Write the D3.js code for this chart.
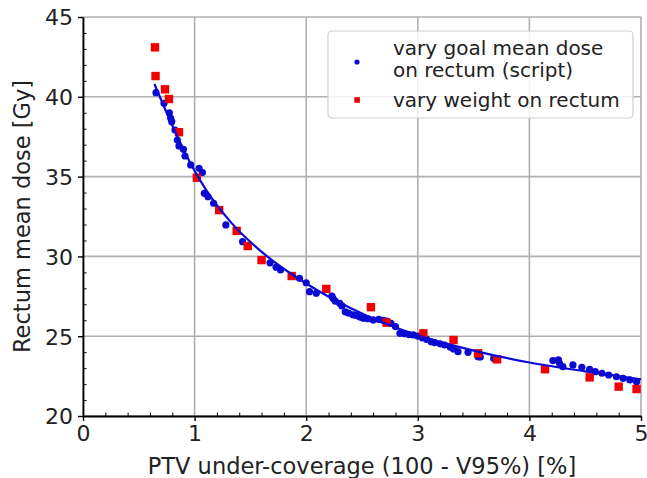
<!DOCTYPE html>
<html>
<head>
<meta charset="utf-8">
<script src="https://cdn.jsdelivr.net/npm/d3@7"></script>
<style>
  html, body { margin: 0; padding: 0; background: #fff; }
  svg { display: block; font-family: "DejaVu Sans", sans-serif; }
</style>
</head>
<body>
<svg id="chart" width="647" height="478"></svg>
<script>
// Rectum mean dose vs PTV under-coverage (trade-off curve)

// Series 1: goal mean dose varied on rectum (script)
const scriptX = [0.654, 0.726, 0.774, 0.786, 0.795, 0.824, 0.845, 0.86, 0.90, 0.914, 0.965, 1.04, 1.07,
  1.087, 1.12, 1.17, 1.28, 1.43, 1.676, 1.73, 1.77, 1.94, 2.00, 2.03, 2.09, 2.23, 2.24, 2.26, 2.30, 2.32,
  2.35, 2.38, 2.42, 2.45, 2.48, 2.51, 2.55, 2.60, 2.65, 2.69, 2.72, 2.76, 2.80, 2.84, 2.88, 2.92, 2.96,
  3.00, 3.04, 3.08, 3.12, 3.15, 3.20, 3.24, 3.29, 3.32, 3.36, 3.45, 3.54, 3.56, 3.68,
  4.21, 4.26, 4.27, 4.30, 4.39, 4.47, 4.54, 4.59, 4.65, 4.71, 4.78, 4.84, 4.90, 4.96];
const scriptY = [40.26, 39.59, 39.00, 38.65, 38.44, 37.92, 37.29, 36.92, 36.71, 36.29, 35.73, 35.52, 35.25,
  33.95, 33.74, 33.33, 31.97, 30.92, 29.60, 29.32, 29.15, 28.63, 28.35, 27.79, 27.69, 27.52, 27.37, 27.20, 27.06, 26.90,
  26.53, 26.45, 26.33, 26.30, 26.20, 26.12, 26.10, 26.02, 26.05, 26.00, 25.95, 25.80, 25.60, 25.18, 25.15, 25.10, 25.08,
  25.00, 24.90, 24.80, 24.65, 24.60, 24.52, 24.45, 24.32, 24.20, 24.03, 23.99, 23.72, 23.70, 23.60,
  23.47, 23.52, 23.30, 23.09, 23.20, 23.05, 22.93, 22.78, 22.68, 22.57, 22.46, 22.36, 22.26, 22.15];

// Series 2: weight on rectum varied
const weightX = [0.645, 0.65, 0.735, 0.77, 0.86, 1.02, 1.22, 1.377, 1.476, 1.60, 1.87, 2.18, 2.58,
  2.72, 3.05, 3.32, 3.54, 3.71, 4.14, 4.54, 4.80, 4.96];
const weightY = [43.10, 41.30, 40.47, 39.86, 37.78, 34.93, 32.90, 31.60, 30.65, 29.77, 28.77, 27.96, 26.82,
  25.85, 25.18, 24.76, 23.93, 23.55, 22.93, 22.42, 21.84, 21.69];

// Fitted trade-off curve
const fitX = [0.64, 0.75, 0.90, 1.10, 1.33, 1.65, 2.00, 2.40, 3.00, 3.50, 4.00, 4.50, 5.00];
const fitY = [40.8, 39.0, 36.7, 34.2, 32.1, 30.0, 28.3, 26.75, 25.05, 24.1, 23.35, 22.8, 22.3];

// Axes
const xTicks = [0, 1, 2, 3, 4, 5];
const yTicks = [20, 25, 30, 35, 40, 45];
const xTitle = "PTV under-coverage (100 - V95%) [%]";
const yTitle = "Rectum mean dose [Gy]";
const legendLabels = [["vary goal mean dose", "on rectum (script)"], ["vary weight on rectum"]];

const blue = "#0a0ad2";
const red = "#f00000";

const W = 647, H = 478;
const m = { left: 83, right: 6, top: 17, bottom: 62 };
const svg = d3.select("#chart");

const x = d3.scaleLinear().domain([0, 5]).range([m.left, W - m.right]);
const y = d3.scaleLinear().domain([20, 45]).range([H - m.bottom, m.top]);

// grid
const grid = svg.append("g").attr("stroke", "#b0b0b0").attr("stroke-width", 1.6);
grid.selectAll(".gx").data(xTicks).join("line")
  .attr("x1", d => x(d)).attr("x2", d => x(d))
  .attr("y1", y(20)).attr("y2", y(45));
grid.selectAll(".gy").data(yTicks).join("line")
  .attr("x1", x(0)).attr("x2", x(5))
  .attr("y1", d => y(d)).attr("y2", d => y(d));

// minor ticks (inward)
const xMinor = d3.range(0, 5.001, 0.2).filter(v => Math.abs(v - Math.round(v)) > 1e-6);
const yMinor = d3.range(20, 45.001, 1).filter(v => v % 5 !== 0);
svg.append("g").attr("transform", `translate(0,${y(20)})`)
  .call(d3.axisBottom(x).tickValues(xMinor).tickSize(-3.5).tickFormat(""))
  .call(g => g.select(".domain").remove())
  .selectAll("line").attr("stroke", "#000").attr("stroke-width", 1);
svg.append("g").attr("transform", `translate(${x(0)},0)`)
  .call(d3.axisLeft(y).tickValues(yMinor).tickSize(-3.5).tickFormat(""))
  .call(g => g.select(".domain").remove())
  .selectAll("line").attr("stroke", "#000").attr("stroke-width", 1);

// major axes
const xAxis = svg.append("g").attr("transform", `translate(0,${y(20)})`)
  .call(d3.axisBottom(x).tickValues(xTicks).tickSize(5).tickPadding(4).tickSizeOuter(0).tickFormat(d3.format("d")));
const yAxis = svg.append("g").attr("transform", `translate(${x(0)},0)`)
  .call(d3.axisLeft(y).tickValues(yTicks).tickSize(5).tickPadding(5).tickSizeOuter(0).tickFormat(d3.format("d")));
[xAxis, yAxis].forEach(a => {
  a.select(".domain").attr("stroke", "#000").attr("stroke-width", 1.8);
  a.selectAll(".tick line").attr("stroke", "#000").attr("stroke-width", 1.4);
  a.selectAll(".tick text").attr("fill", "#222").style("font-size", "22px")
    .style("font-family", "'DejaVu Sans', sans-serif");
});
yAxis.selectAll(".tick text").attr("dy", "0.36em");

// axis titles
svg.append("text").attr("x", (x(0) + x(5)) / 2).attr("y", 474)
  .attr("text-anchor", "middle").attr("fill", "#222").style("font-size", "22.5px").text(xTitle);
svg.append("text").attr("transform", `translate(30,${(y(20) + y(45)) / 2}) rotate(-90)`)
  .attr("text-anchor", "middle").attr("fill", "#222").style("font-size", "22.5px").text(yTitle);

// data
const plot = svg.append("g");
plot.selectAll(".sc").data(d3.zip(scriptX, scriptY)).join("circle")
  .attr("cx", d => x(d[0])).attr("cy", d => y(d[1])).attr("r", 3.6).attr("fill", blue);
plot.selectAll(".wt").data(d3.zip(weightX, weightY)).join("rect")
  .attr("x", d => x(d[0]) - 4.2).attr("y", d => y(d[1]) - 4.2)
  .attr("width", 8.4).attr("height", 8.4).attr("fill", red);
const line = d3.line().x(d => x(d[0])).y(d => y(d[1])).curve(d3.curveMonotoneX);
plot.append("path").datum(d3.zip(fitX, fitY)).attr("d", line)
  .attr("fill", "none").attr("stroke", blue).attr("stroke-width", 2.2);

// legend
const lg = svg.append("g");
lg.append("rect").attr("x", 328).attr("y", 31).attr("width", 305).attr("height", 87).attr("rx", 4)
  .attr("fill", "#fff").attr("fill-opacity", 0.82).attr("stroke", "#d0d0d0").attr("stroke-width", 1.2);
lg.append("circle").attr("cx", 357).attr("cy", 62).attr("r", 2.6).attr("fill", blue);
lg.append("rect").attr("x", 354.3).attr("y", 97.2).attr("width", 5.6).attr("height", 5.6).attr("fill", red);
const lt = lg.append("text").attr("fill", "#222").style("font-size", "20px");
lt.append("tspan").attr("x", 393).attr("y", 55).text(legendLabels[0][0]);
lt.append("tspan").attr("x", 393).attr("y", 77).text(legendLabels[0][1]);
lg.append("text").attr("x", 393).attr("y", 107).attr("fill", "#222").style("font-size", "20px").text(legendLabels[1][0]);
</script>
</body>
</html>
